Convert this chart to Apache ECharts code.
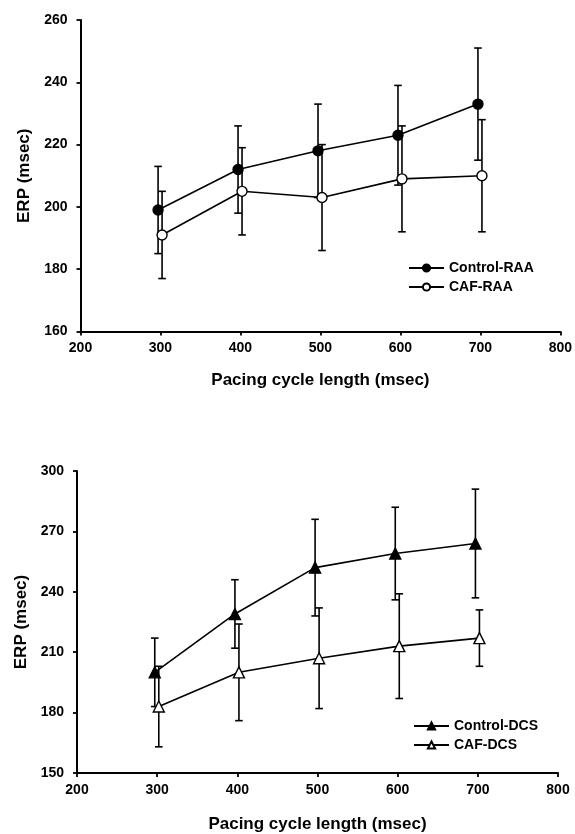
<!DOCTYPE html>
<html>
<head>
<meta charset="utf-8">
<style>
  html, body { margin: 0; padding: 0; background: #fff; }
  #chart { width: 575px; height: 834px; }
</style>
<script src="https://cdn.jsdelivr.net/npm/echarts@6/dist/echarts.min.js"></script>
</head>
<body>
<div id="chart"></div>
<script>
// 起搏周长 (msec)
const pacingCL = [300, 400, 500, 600, 700];

// 上图：RAA
const controlRAA = [199, 212, 218, 223, 233];
const controlRAAErr = [14, 14, 15, 16, 18];
const cafRAA = [191, 205, 203, 209, 210];
const cafRAAErr = [14, 14, 17, 17, 18];

// 下图：DCS
const controlDCS = [200, 229, 252, 259, 264];
const controlDCSErr = [17, 17, 24, 23, 27];
const cafDCS = [183, 200, 207, 213, 217];
const cafDCSErr = [20, 24, 25, 26, 14];

const FONT = 'Liberation Sans, Arial, sans-serif';
const chart = echarts.init(document.getElementById('chart'));

// 两组点左右略微错开，便于看清误差线
const SHIFT_CTRL = -3;
const SHIFT_CAF = 2;

function pts(vals, shift) {
  return pacingCL.map((x, i) => [x + shift, vals[i]]);
}

function errData(vals, errs, shift) {
  return pacingCL.map((x, i) => [x + shift, vals[i] - errs[i], vals[i] + errs[i]]);
}

// 误差线：竖线加上下横帽
function renderErr(params, api) {
  const lo = api.coord([api.value(0), api.value(1)]);
  const hi = api.coord([api.value(0), api.value(2)]);
  const cap = 3.8;
  const style = { stroke: '#000', lineWidth: 1.6 };
  return {
    type: 'group',
    children: [
      { type: 'line', shape: { x1: lo[0], y1: lo[1], x2: hi[0], y2: hi[1] }, style },
      { type: 'line', shape: { x1: lo[0] - cap, y1: lo[1], x2: lo[0] + cap, y2: lo[1] }, style },
      { type: 'line', shape: { x1: hi[0] - cap, y1: hi[1], x2: hi[0] + cap, y2: hi[1] }, style }
    ]
  };
}

function xAxis(gridIndex, nameGap) {
  return {
    type: 'value', gridIndex, min: 200, max: 800, interval: 100,
    name: 'Pacing cycle length (msec)', nameLocation: 'middle', nameGap,
    nameTextStyle: { fontFamily: FONT, fontWeight: 'bold', fontSize: 17, color: '#000' },
    axisLine: { lineStyle: { color: '#000', width: 2 } },
    axisTick: { length: 4, lineStyle: { color: '#000', width: 1.8 } },
    axisLabel: { fontFamily: FONT, fontWeight: 'bold', fontSize: 14, color: '#000', margin: 10 },
    splitLine: { show: false }
  };
}

function yAxis(gridIndex, min, max, interval) {
  return {
    type: 'value', gridIndex, min, max, interval,
    name: 'ERP (msec)', nameLocation: 'middle', nameGap: 47,
    nameTextStyle: { fontFamily: FONT, fontWeight: 'bold', fontSize: 17, color: '#000' },
    axisLine: { show: true, lineStyle: { color: '#000', width: 2 } },
    axisTick: { show: true, length: 4, lineStyle: { color: '#000', width: 1.8 } },
    axisLabel: { fontFamily: FONT, fontWeight: 'bold', fontSize: 14, color: '#000', margin: 13 },
    splitLine: { show: false }
  };
}

function lineSeries(name, vals, shift, symbol, filled, idx) {
  return {
    name, type: 'line', xAxisIndex: idx, yAxisIndex: idx,
    data: pts(vals, shift),
    symbol, symbolSize: symbol === 'circle' ? 10 : 11,
    showAllSymbol: true, z: 3,
    lineStyle: { color: '#000', width: 1.6 },
    itemStyle: { color: filled ? '#000' : '#fff', borderColor: '#000', borderWidth: 1.4 },
    emphasis: { disabled: true }
  };
}

function errSeries(vals, errs, shift, idx) {
  return {
    type: 'custom', xAxisIndex: idx, yAxisIndex: idx,
    data: errData(vals, errs, shift),
    renderItem: renderErr, z: 2, silent: true
  };
}

function legend(names, left, top) {
  return {
    data: names, left, top, orient: 'vertical', padding: 0,
    itemWidth: 35, itemHeight: 9, itemGap: 5,
    textStyle: { fontFamily: FONT, fontWeight: 'bold', fontSize: 14, color: '#000' },
    selectedMode: false
  };
}

const option = {
  backgroundColor: '#fff',
  animation: false,
  grid: [
    { left: 80.5, top: 20, width: 481, height: 311.5 },
    { left: 77, top: 471, width: 481, height: 302.5 }
  ],
  xAxis: [xAxis(0, 40), xAxis(1, 43)],
  yAxis: [yAxis(0, 160, 260, 20), yAxis(1, 150, 300, 30)],
  legend: [
    legend(['Control-RAA', 'CAF-RAA'], 408, 261),
    legend(['Control-DCS', 'CAF-DCS'], 413, 719)
  ],
  series: [
    errSeries(controlRAA, controlRAAErr, SHIFT_CTRL, 0),
    errSeries(cafRAA, cafRAAErr, SHIFT_CAF, 0),
    lineSeries('Control-RAA', controlRAA, SHIFT_CTRL, 'circle', true, 0),
    lineSeries('CAF-RAA', cafRAA, SHIFT_CAF, 'circle', false, 0),
    errSeries(controlDCS, controlDCSErr, SHIFT_CTRL, 1),
    errSeries(cafDCS, cafDCSErr, SHIFT_CAF, 1),
    lineSeries('Control-DCS', controlDCS, SHIFT_CTRL, 'triangle', true, 1),
    lineSeries('CAF-DCS', cafDCS, SHIFT_CAF, 'triangle', false, 1)
  ]
};

chart.setOption(option);
</script>
</body>
</html>
